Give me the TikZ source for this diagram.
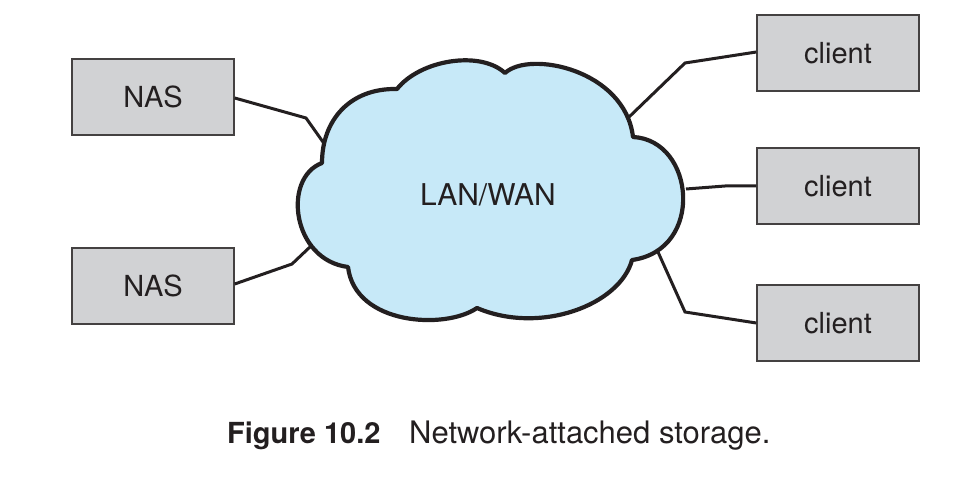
\documentclass[tikz,border=0pt]{standalone}
\usepackage{fontspec}
\setmainfont{TeX Gyre Heros}
\definecolor{boxgray}{HTML}{D1D2D4}
\definecolor{cloudblue}{HTML}{C7E9F8}
\definecolor{ink}{HTML}{231F20}
\begin{document}
\begin{tikzpicture}[x=1pt,y=-1pt,
  unit/.style={draw=ink!85,line width=1.4pt,fill=boxgray,minimum width=162pt,
    minimum height=76pt,inner sep=0pt,text=ink,font=\fontsize{29}{34}\selectfont},
  link/.style={draw=ink,line width=3pt,line join=miter},
  cloudline/.style={draw=ink,line width=4.2pt,fill=cloudblue,line join=round}]
\useasboundingbox (0,0) rectangle (966,478);

% storage boxes and clients
\node[unit] (nas1) at (153,97) {NAS};
\node[unit] (nas2) at (153,286) {NAS};
\node[unit] (c1) at (838,53) {client};
\node[unit] (c2) at (838,186) {client};
\node[unit] (c3) at (838,323) {client};

% attachment points on the cloud outline
\coordinate (pn1) at (323,142);
\coordinate (pn2) at (311,246);
\coordinate (pc1) at (628,118);
\coordinate (pc2) at (686,189);
\coordinate (pc3) at (658,252);

% links (drawn first, the cloud covers their ends)
\draw[link] (nas1.east |- 0,98) -- (306,118) -- (pn1);
\draw[link] (nas2.east |- 0,284) -- (292,264) -- (pn2);
\draw[link] (c1.west |- 0,52) -- (685,63) -- (pc1);
\draw[link] (c2.west |- 0,186) -- (725,186) -- (pc2);
\draw[link] (c3.west |- 0,323) -- (685,312) -- (pc3);

% the network cloud
\draw[cloudline] (348,267)
  .. controls (292,260) and (282,178) .. (322,163)
  .. controls (322,120) and (350,88) .. (397,89)
  .. controls (420,60) and (480,50) .. (505,73)
  .. controls (530,50) and (625,70) .. (633,137)
  .. controls (695,140) and (705,250) .. (632,260)
  .. controls (620,305) and (540,335) .. (477,308)
  .. controls (445,330) and (355,325) .. cycle;
\node[text=ink,font=\fontsize{30}{35}\selectfont,anchor=base] (lan) at (488,206) {LAN/WAN};

% caption
\node[anchor=base west,inner sep=0pt,text=ink,font=\fontsize{29}{34}\selectfont\bfseries] (fig) at (227,443) {Figure 10.2};
\node[anchor=base west,inner sep=0pt,text=ink,font=\fontsize{31}{36}\selectfont] (cap) at (409,443) {Network-attached storage.};
\end{tikzpicture}
\end{document}
